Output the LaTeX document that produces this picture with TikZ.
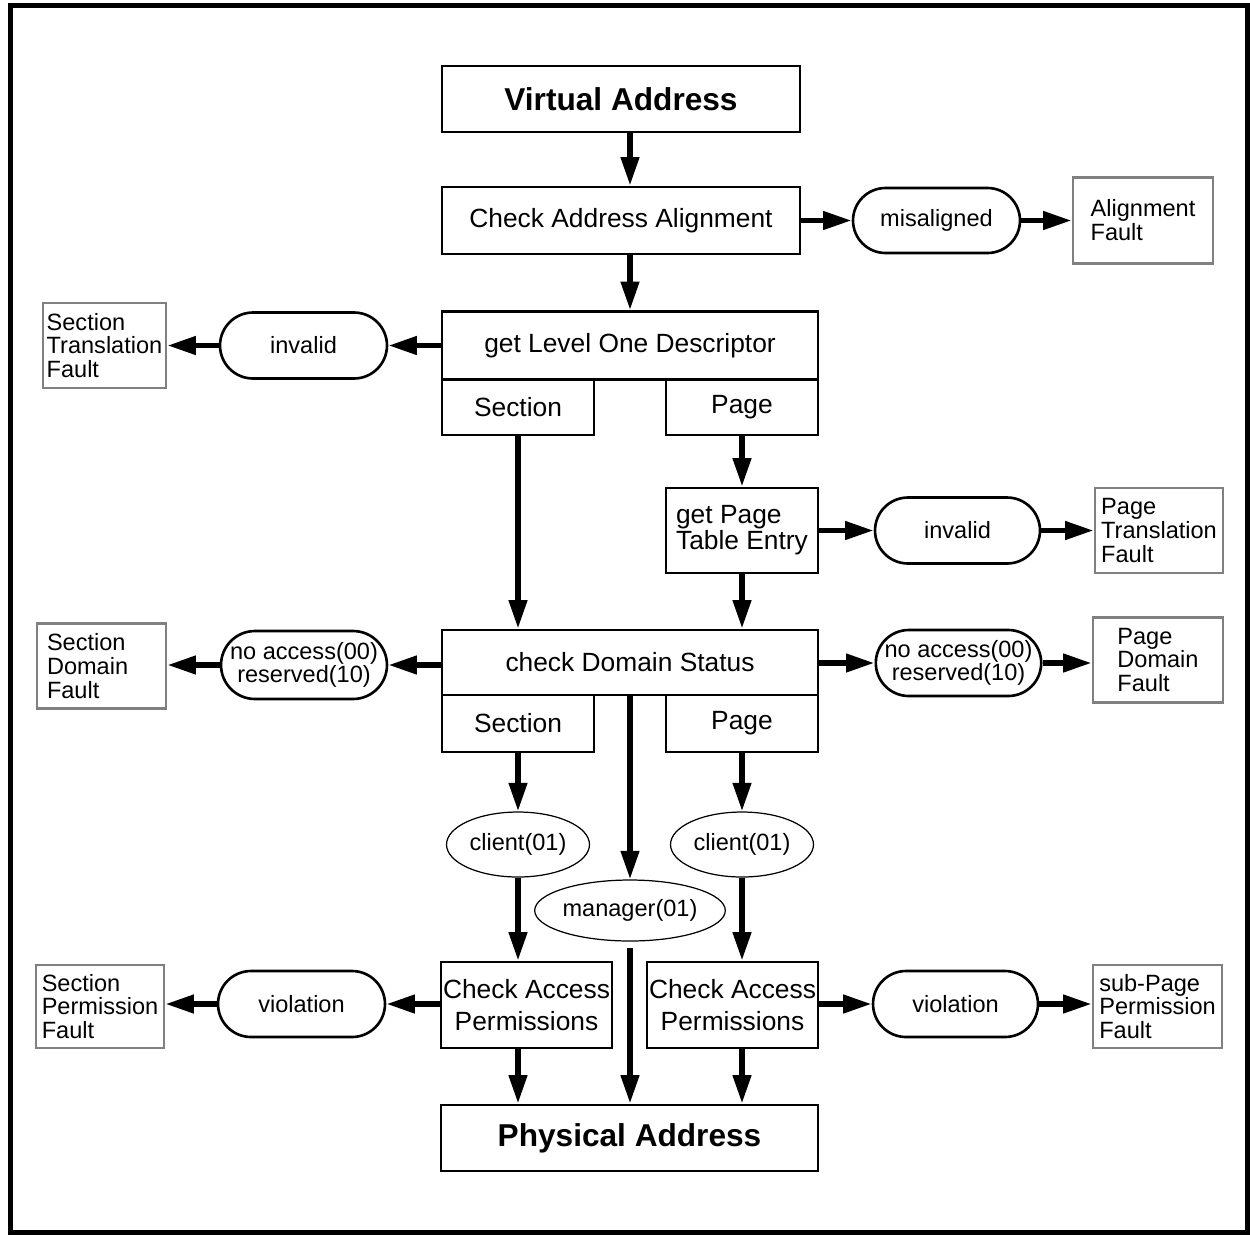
\documentclass[tikz,border=0pt]{standalone}
\usepackage{fontspec}
\setmainfont{Liberation Sans}
\usetikzlibrary{arrows.meta,shapes.geometric,shapes.misc}

\begin{document}
\begin{tikzpicture}[x=0.02cm, y=-0.02cm,
    box/.style={draw, line width=1.5pt, inner sep=0pt, font=\fontsize{15}{16}\selectfont},
    bigbox/.style={box, font=\fontsize{18}{20}\selectfont\bfseries},
    cond/.style={draw, rounded rectangle, line width=1.5pt, inner sep=0pt, align=center, font=\fontsize{13.4}{13}\selectfont},
    kind/.style={draw, ellipse, line width=0.7pt, inner sep=0pt, font=\fontsize{13.4}{14}\selectfont},
    fault/.style={draw=gray, line width=1.5pt, inner sep=0pt, align=left, font=\fontsize{13.4}{13.6}\selectfont},
    arr/.style={-{Triangle[length=0.57cm, width=0.35cm]}, line width=3.2pt}]

    \useasboundingbox (0,0) rectangle (1250,1234);

    % outer frame
    \draw[line width=2.8pt] (10.5,5.5) rectangle (1247.5,1232.5);

    % address alignment
    \node[bigbox, minimum width=7.16cm, minimum height=1.32cm] (va) at (621,99) {Virtual Address};
    \node[box, minimum width=7.16cm, minimum height=1.34cm] (caa) at (621,220.5) {Check Address Alignment};
    \node[cond, minimum width=3.34cm, minimum height=1.3cm] (mis) at (936.5,220.5) {misaligned};
    \node[fault, minimum width=2.8cm, minimum height=1.72cm] (af) at (1143,220.5) {Alignment\\Fault};

    % level one descriptor
    \node[box, minimum width=7.52cm, minimum height=1.36cm] (lod) at (630,345.5) {get Level One Descriptor};
    \node[box, minimum width=3.04cm, minimum height=1.1cm] (lsec) at (518,407.5) {Section};
    \node[box, minimum width=3.04cm, minimum height=1.1cm] (lpage) at (742,407.5) {Page};
    \node[cond, minimum width=3.34cm, minimum height=1.32cm] (invl) at (303.5,345.5) {invalid};
    \node[fault, minimum width=2.46cm, minimum height=1.7cm] (stf) at (104.5,345.5) {Section\\Translation\\Fault};

    % page table entry
    \node[box, align=left, font=\fontsize{15}{14.7}\selectfont, minimum width=3.04cm, minimum height=1.7cm] (pte) at (742,530.5) {get Page\\Table Entry};
    \node[cond, minimum width=3.3cm, minimum height=1.32cm] (invr) at (957.5,530.5) {invalid};
    \node[fault, minimum width=2.56cm, minimum height=1.7cm] (ptf) at (1159,530.5) {Page\\Translation\\Fault};

    % domain status
    \node[box, minimum width=7.52cm, minimum height=1.3cm] (cds) at (630,662.5) {check Domain Status};
    \node[box, minimum width=3.04cm, minimum height=1.14cm] (dsec) at (518,723.5) {Section};
    \node[box, minimum width=3.04cm, minimum height=1.14cm] (dpage) at (742,723.5) {Page};
    \node[cond, minimum width=3.32cm, minimum height=1.36cm] (nal) at (304,665) {no access(00)\\reserved(10)};
    \node[fault, text width=2.18cm, inner xsep=0.2cm, minimum height=1.7cm] (sdf) at (101.5,666) {Section\\Domain\\Fault};
    \node[cond, minimum width=3.3cm, minimum height=1.32cm] (nar) at (958.5,663) {no access(00)\\reserved(10)};
    \node[fault, minimum width=2.6cm, minimum height=1.7cm] (pdf) at (1158,660) {Page\\Domain\\Fault};

    % domain kinds
    \node[kind, minimum width=2.86cm, minimum height=1.3cm] (clientl) at (518,844.5) {client(01)};
    \node[kind, minimum width=2.86cm, minimum height=1.3cm] (clientr) at (742,844.5) {client(01)};
    \node[kind, minimum width=2.98cm, minimum height=1.22cm] (mgr) at (630,910.5) {manager(01)};

    % access permissions
    \node[box, align=center, font=\fontsize{15}{18}\selectfont, minimum width=3.42cm, minimum height=1.72cm] (capl) at (526.5,1005) {Check Access\\Permissions};
    \node[box, align=center, font=\fontsize{15}{18}\selectfont, minimum width=3.42cm, minimum height=1.72cm] (capr) at (732.5,1005) {Check Access\\Permissions};
    \node[cond, minimum width=3.34cm, minimum height=1.32cm] (viol) at (301.5,1004) {violation};
    \node[fault, minimum width=2.56cm, minimum height=1.66cm] (spf) at (100,1006.5) {Section\\Permission\\Fault};
    \node[cond, minimum width=3.3cm, minimum height=1.32cm] (vior) at (955.5,1004) {violation};
    \node[fault, minimum width=2.58cm, minimum height=1.66cm] (sppf) at (1157.5,1006.5) {sub-Page\\Permission\\Fault};

    \node[bigbox, minimum width=7.54cm, minimum height=1.32cm] (pa) at (629.5,1138) {Physical Address};

    % main column
    \draw[arr] (lod.north |- va.south) -- (lod.north |- caa.north);
    \draw[arr] (lod.north |- caa.south) -- (lod.north);
    \draw[arr] (caa.east |- mis.west) -- (mis.west);
    \draw[arr] (mis.east) -- (mis.east -| af.west);

    % level one branches
    \draw[arr] (lod.west |- invl.east) -- (invl.east);
    \draw[arr] (invl.west) -- (invl.west -| stf.east);
    \draw[arr] (lsec.south) -- (lsec.south |- cds.north);
    \draw[arr] (lpage.south) -- (pte.north);
    \draw[arr] (pte.east |- invr.west) -- (invr.west);
    \draw[arr] (invr.east) -- (invr.east -| ptf.west);
    \draw[arr] (pte.south) -- (pte.south |- cds.north);

    % domain branches
    \draw[arr] (cds.west |- nal.east) -- (nal.east);
    \draw[arr] (nal.west) -- (nal.west -| sdf.east);
    \draw[arr] (cds.east |- nar.west) -- (nar.west);
    \draw[arr] (nar.east) -- (nar.east -| pdf.west);
    \draw[arr] (dsec.south) -- (clientl.north);
    \draw[arr] (dpage.south) -- (clientr.north);
    \draw[arr] (cds.south) -- (mgr.north);
    \draw[arr] (clientl.south) -- (clientl.south |- capl.north);
    \draw[arr] (clientr.south) -- (clientr.south |- capr.north);

    % permissions
    \draw[arr] (capl.west |- viol.east) -- (viol.east);
    \draw[arr] (viol.west) -- (viol.west -| spf.east);
    \draw[arr] (capr.east |- vior.west) -- (vior.west);
    \draw[arr] (vior.east) -- (vior.east -| sppf.west);
    \draw[arr] (clientl.south |- capl.south) -- (clientl.south |- pa.north);
    \draw[arr] ([yshift=-0.12cm]mgr.south) -- (mgr.south |- pa.north);
    \draw[arr] (clientr.south |- capr.south) -- (clientr.south |- pa.north);

\end{tikzpicture}
\end{document}
